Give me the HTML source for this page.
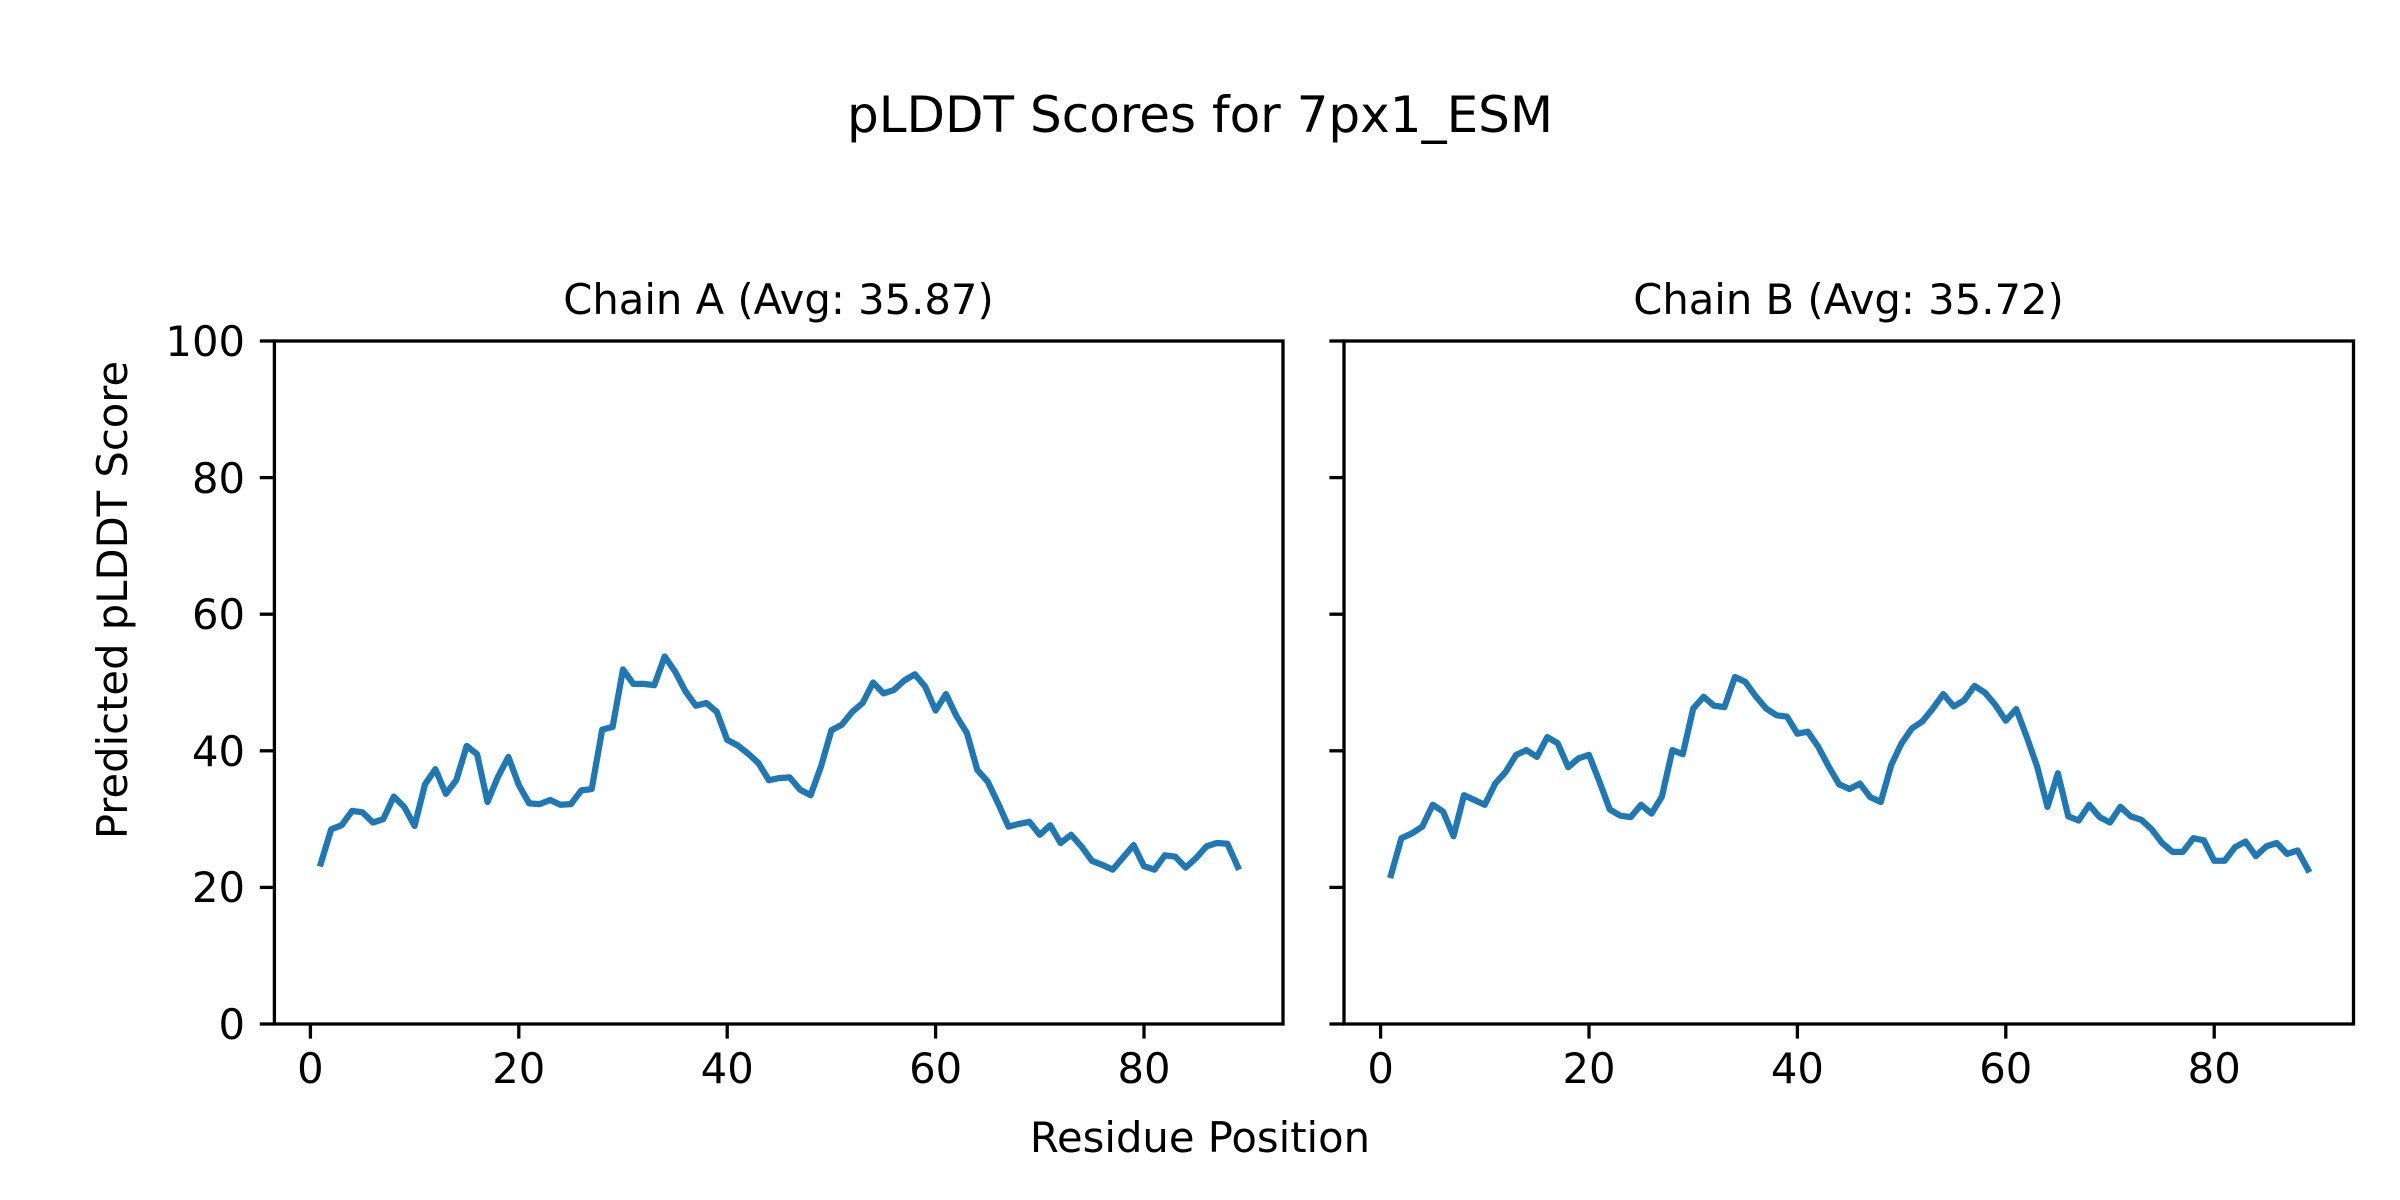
<!DOCTYPE html>
<html><head><meta charset="utf-8"><style>
html,body{margin:0;padding:0;background:#fff;}
svg{display:block;}
text{font-family:"DejaVu Sans","Liberation Sans",sans-serif;fill:#000;}
</style></head><body>
<svg id="s" width="2400" height="1200" viewBox="0 0 2400 1200" xmlns="http://www.w3.org/2000/svg">
<rect width="2400" height="1200" fill="#fff"/>
<text x="1200" y="132" font-size="50" text-anchor="middle">pLDDT Scores for 7px1_ESM</text>
<text x="778.5" y="314" font-size="41.7" text-anchor="middle">Chain A (Avg: 35.87)</text>
<text x="1848.5" y="314" font-size="41.7" text-anchor="middle">Chain B (Avg: 35.72)</text>
<text x="1200" y="1152" font-size="41.7" text-anchor="middle">Residue Position</text>
<text transform="translate(127,600) rotate(-90)" font-size="41.7" text-anchor="middle">Predicted pLDDT Score</text>
<g font-size="41.7" text-anchor="end">
<text x="245" y="1039">0</text>
<text x="245" y="902">20</text>
<text x="245" y="766">40</text>
<text x="245" y="629">60</text>
<text x="245" y="493">80</text>
<text x="245" y="356">100</text>
</g>
<g id="ticks" stroke="#000" stroke-width="3.3"></g>
<g id="xl" font-size="41.7" text-anchor="middle"></g>
<path id="pA" fill="none" stroke="#1f77b4" stroke-width="6.25" stroke-linejoin="round" stroke-linecap="square"/>
<path id="pB" fill="none" stroke="#1f77b4" stroke-width="6.25" stroke-linejoin="round" stroke-linecap="square"/>
<rect x="274.4" y="341" width="1008.6" height="683" fill="none" stroke="#000" stroke-width="3.3"/>
<rect x="1344" y="341" width="1009.5" height="683" fill="none" stroke="#000" stroke-width="3.3"/>
</svg>
<script>
var A=[23.5,28.5,29.1,31.2,31.0,29.5,30.0,33.3,31.8,29.0,35.1,37.3,33.7,35.7,40.7,39.5,32.5,36.2,39.1,35.0,32.3,32.2,32.8,32.1,32.2,34.2,34.4,43.1,43.5,51.9,49.8,49.8,49.6,53.8,51.6,48.7,46.6,47.0,45.7,41.6,40.8,39.6,38.2,35.7,36.0,36.1,34.3,33.5,37.7,43.0,43.8,45.7,47.0,50.0,48.4,48.9,50.3,51.2,49.4,45.9,48.3,45.1,42.6,37.2,35.5,32.3,28.9,29.3,29.6,27.7,29.1,26.5,27.7,26.0,23.9,23.3,22.6,24.4,26.2,23.1,22.6,24.7,24.5,22.9,24.3,26.0,26.5,26.4,23.0];
var B=[21.8,27.2,27.9,28.9,32.1,31.1,27.5,33.5,32.8,32.1,35.2,36.9,39.4,40.1,39.1,42.0,41.1,37.6,38.9,39.4,35.5,31.4,30.5,30.3,32.1,30.8,33.3,40.1,39.5,46.2,47.9,46.6,46.4,50.8,50.1,48.0,46.2,45.2,45.0,42.5,42.8,40.6,37.7,35.1,34.4,35.2,33.2,32.5,37.9,41.1,43.3,44.3,46.2,48.3,46.5,47.4,49.5,48.5,46.7,44.4,46.1,42.1,37.7,31.8,36.7,30.4,29.8,32.1,30.3,29.5,31.8,30.4,29.9,28.5,26.5,25.2,25.2,27.2,26.9,23.9,23.9,25.9,26.7,24.6,26.0,26.5,24.9,25.4,22.6];
function Y(v){return 1024-6.83*v;}
function path(d,x0){return d.map(function(v,i){return (i?'L':'M')+(x0+(i+1)*10.42).toFixed(1)+' '+Y(v).toFixed(1);}).join('');}
document.getElementById('pA').setAttribute('d',path(A,310.4));
document.getElementById('pB').setAttribute('d',path(B,1380.6));
var t='',l='';
[310.4,1380.6].forEach(function(x0,k){
 for(var i=0;i<=80;i+=20){var x=x0+i*10.42;t+='<line x1="'+x+'" y1="1024" x2="'+x+'" y2="1038.6"/>';l+='<text x="'+x+'" y="1083">'+i+'</text>';}
 var ax=k?1344:274.4;
 for(var v=0;v<=100;v+=20){var y=Y(v);t+='<line x1="'+(ax-14.6)+'" y1="'+y+'" x2="'+ax+'" y2="'+y+'"/>';}
});
document.getElementById('ticks').innerHTML=t;
document.getElementById('xl').innerHTML=l;
</script>
</body></html>
